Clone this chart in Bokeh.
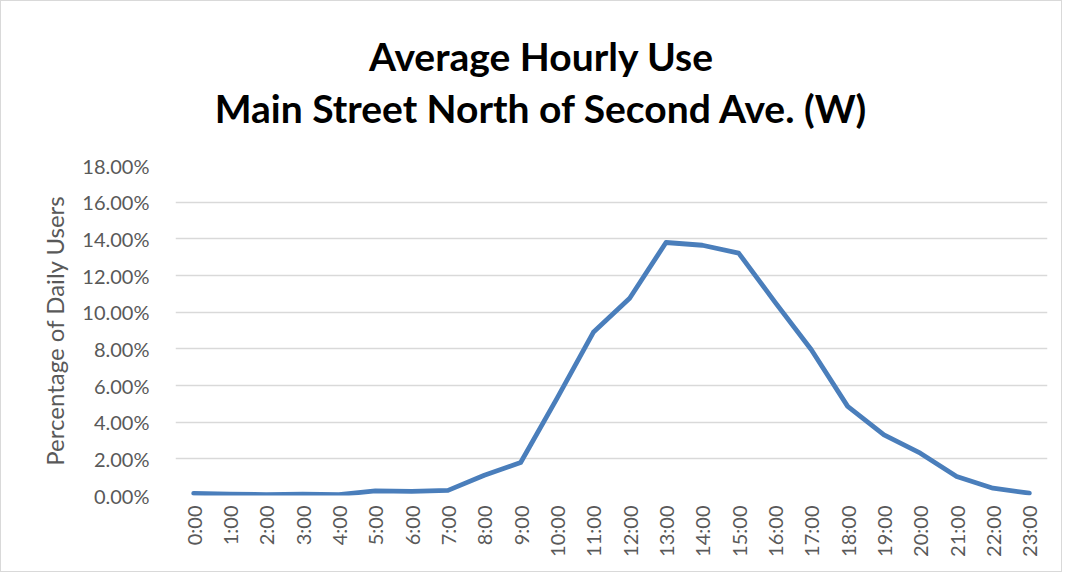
import math
from bokeh.plotting import figure
from bokeh.layouts import column
from bokeh.models import FactorRange, Range1d, FixedTicker, PrintfTickFormatter
from bokeh.core.properties import value
from bokeh.embed import file_html
from bokeh.resources import INLINE

hours = [f"{h}:00" for h in range(24)]
usage_pct = [0.12, 0.07, 0.05, 0.07, 0.05, 0.25, 0.22, 0.28, 1.10, 1.80,
             5.30, 8.90, 10.76, 13.80, 13.65, 13.22, 10.55, 7.95, 4.86, 3.31,
             2.31, 1.04, 0.40, 0.13]
y_ticks = [0, 2, 4, 6, 8, 10, 12, 14, 16, 18]
title_lines = ["Average Hourly Use", "Main Street North of Second Ave. (W)"]
y_label = "Percentage of Daily Users"

FONT = "Lato"
GRAY = "#595959"
W = 1060
TH = 150
FL, FR = 174, 1046  # frame edges (aligned across the column)

# title strip
t = figure(width=W, height=TH, x_range=Range1d(0, FR - FL), y_range=Range1d(0, TH),
           output_backend="svg", toolbar_location=None,
           min_border=0, min_border_left=0, min_border_right=0, min_border_top=0, min_border_bottom=0)
t.axis.visible = False
t.grid.visible = False
t.outline_line_color = None
t.text(x=[540 - FL, 540 - FL], y=[TH - 68 + 14, TH - 120 + 14], text=title_lines,
       text_align="center", text_baseline="alphabetic", text_font=value(FONT),
       text_font_style="bold", text_font_size="39px", text_color="black")

p = figure(width=W, height=570 - TH, x_range=FactorRange(factors=hours, range_padding=0),
           y_range=Range1d(0, 18), output_backend="svg", toolbar_location=None,
           min_border_left=FL, min_border_right=W - FR, min_border_top=164 - TH,
           min_border_bottom=76)
p.outline_line_color = None

p.line(x=hours, y=usage_pct, line_color="#4a7ebb", line_width=4.8, line_join="round", line_cap="round")

p.xgrid.grid_line_color = None
p.ygrid.grid_line_color = "#d9d9d9"
p.ygrid.grid_line_width = 1.5

p.yaxis.ticker = FixedTicker(ticks=y_ticks)
p.yaxis.formatter = PrintfTickFormatter(format="%.2f%%")
for ax in (p.xaxis[0], p.yaxis[0]):
    ax.axis_line_color = None
    ax.major_tick_line_color = None
    ax.minor_tick_line_color = None
    ax.major_tick_out = 0
    ax.major_tick_in = 0
    ax.major_label_text_font = FONT
    ax.major_label_text_color = GRAY
    ax.major_label_text_font_size = "20px"
p.yaxis.major_label_standoff = 26
p.yaxis.axis_label = y_label
p.yaxis.axis_label_text_font = FONT
p.yaxis.axis_label_text_font_style = "normal"
p.yaxis.axis_label_text_font_size = "24px"
p.yaxis.axis_label_text_color = GRAY
p.yaxis.axis_label_standoff = 10
p.xaxis.major_label_orientation = math.pi / 2
p.xaxis.major_label_standoff = 10

layout = column(t, p, spacing=0)
layout.styles = {"border": "1px solid #d9d9d9"}
open("out.html", "w").write(file_html(layout, INLINE))
